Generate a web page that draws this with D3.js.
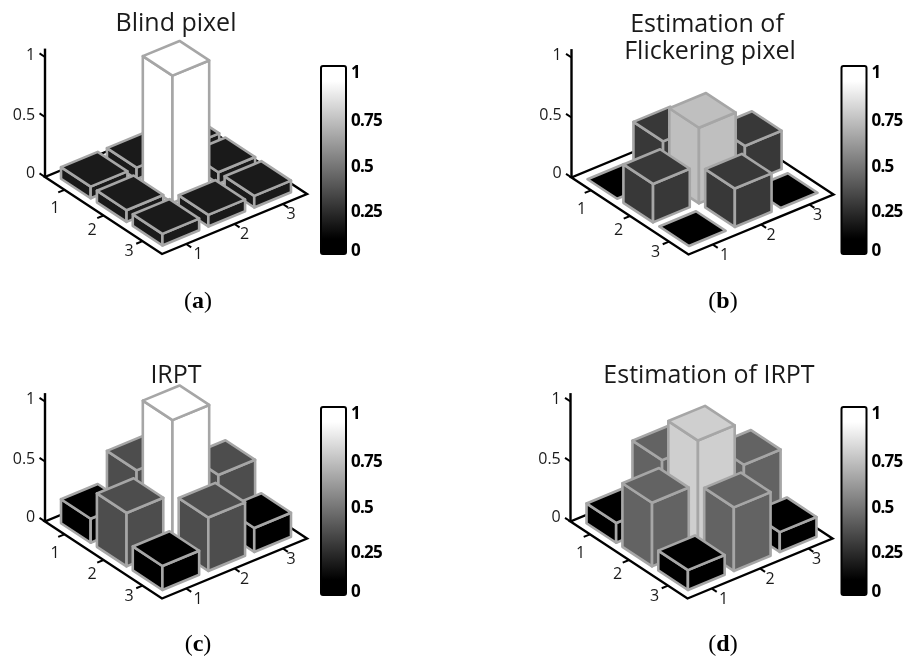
<!DOCTYPE html>
<html>
<head>
<meta charset="utf-8">
<script src="https://cdnjs.cloudflare.com/ajax/libs/d3/7.8.5/d3.min.js"></script>
<style>
  html, body { margin: 0; padding: 0; background: #fff; }
  svg { display: block; filter: blur(0.45px); }
  text { font-family: "Open Sans", "Noto Sans", sans-serif; fill: #1a1a1a; }
</style>
</head>
<body>
<script>
var w = 910;
var h = 662;

// bar heights, rows 1-3, columns 1-3
var heightsA = [[0.097, 0.097, 0.097], [0.097, 1.06, 0.097], [0.097, 0.097, 0.097]];
var heightsB = [[0, 0.32, 0], [0.32, 0.63, 0.32], [0, 0.32, 0]];
var heightsC = [[0.2, 0.445, 0.2], [0.445, 1.06, 0.445], [0.2, 0.445, 0.2]];
var heightsD = [[0.165, 0.53, 0.165], [0.53, 0.89, 0.53], [0.165, 0.53, 0.165]];

// grey level of each bar, same order
var shadesA = [[0.1, 0.1, 0.1], [0.1, 1, 0.1], [0.1, 0.1, 0.1]];
var shadesB = [[0, 0.22, 0], [0.22, 0.75, 0.22], [0, 0.22, 0]];
var shadesC = [[0, 0.3, 0], [0.3, 1, 0.3], [0, 0.3, 0]];
var shadesD = [[0, 0.39, 0], [0.39, 0.81, 0.39], [0, 0.39, 0]];

var titles = [["Blind pixel"], ["Estimation of", "Flickering pixel"], ["IRPT"], ["Estimation of IRPT"]];
var letters = ["a", "b", "c", "d"];
var gridLabels = [1, 2, 3];
var zTicks = [0, 0.5, 1];
var barTicks = [0, 0.25, 0.5, 0.75, 1];

var panels = [
  { ox: 45, oy: 177, bx: 321, by: 66, ty: 31, ly: 308, lx: 198, tx: [176], heights: heightsA, shades: shadesA },
  { ox: 571.5, oy: 177.5, bx: 841.5, by: 66, ty: 32, ly: 308, lx: 723, tx: [707, 710], heights: heightsB, shades: shadesB },
  { ox: 45, oy: 521.5, bx: 321, by: 407, ty: 383, ly: 651, lx: 198, tx: [176], heights: heightsC, shades: shadesC },
  { ox: 570.5, oy: 521.5, bx: 841.5, by: 407, ty: 383, ly: 651, lx: 723, tx: [709], heights: heightsD, shades: shadesD }
];

var grey = d3.scaleLinear().domain([0, 1]).range(["#000000", "#ffffff"]);

// floor axes of the oblique view
var uX = d3.scaleLinear().domain([0, 3]).range([0, 117]);
var uY = d3.scaleLinear().domain([0, 3]).range([0, 77]);
var vX = d3.scaleLinear().domain([0, 3]).range([0, 145]);
var vY = d3.scaleLinear().domain([0, 3]).range([0, -60]);
var zScale = d3.scaleLinear().domain([0, 1]).range([0, -120]);

// bar centres sit a little tighter than the floor grid
var uCentre = d3.scaleLinear().domain([0, 2]).range([0.58, 2.42]);
var vCentre = d3.scaleLinear().domain([0, 2]).range([0.55, 2.45]);

// tick labels along the floor edges
var uLabelX = d3.scaleLinear().domain([1, 3]).range([10, 84]);
var uLabelY = d3.scaleLinear().domain([1, 3]).range([36, 79]);
var vLabelX = d3.scaleLinear().domain([1, 3]).range([153, 246]);
var vLabelY = d3.scaleLinear().domain([1, 3]).range([82, 42]);

// colorbar label spacing in the figure is not quite even
var barScale = d3.scaleLinear().domain(barTicks).range([184, 145, 100, 54, 6]);

var gradPos = d3.scaleLinear().domain([0.08, 0.92]).range([0, 1]).clamp(true);

var svg = d3.select("body").append("svg")
  .attr("width", w)
  .attr("height", h);

var grad = svg.append("defs").append("linearGradient")
  .attr("id", "cbar")
  .attr("x1", 0).attr("y1", 1).attr("x2", 0).attr("y2", 0);
grad.selectAll("stop")
  .data([0, 0.08, 0.92, 1])
  .enter().append("stop")
  .attr("offset", function(d) { return d; })
  .attr("stop-color", function(d) { return grey(gradPos(d)); });

function drawPanel(p, idx) {
  var g = svg.append("g");

  function pt(u, v, z) {
    return [p.ox + uX(u) + vX(v), p.oy + uY(u) + vY(v) + zScale(z)];
  }
  var line = d3.line();

  // floor outline
  g.append("path")
    .attr("d", line([pt(0, 0, 0), pt(3, 0, 0), pt(3, 3, 0), pt(0, 3, 0)]) + "Z")
    .attr("fill", "#fff")
    .attr("stroke", "#000")
    .attr("stroke-width", 2.4);

  // z axis
  g.append("path")
    .attr("d", line([pt(0, 0, 0), pt(0, 0, 1.07)]))
    .attr("stroke", "#000")
    .attr("stroke-width", 2.4);

  g.selectAll(".ztick")
    .data(zTicks)
    .enter().append("path")
    .attr("d", function(d) { return line([pt(0, 0, d), pt(-0.14, 0, d)]); })
    .attr("stroke", "#000")
    .attr("stroke-width", 2);

  g.selectAll(".zlabel")
    .data(zTicks)
    .enter().append("text")
    .attr("x", function(d) { return pt(-0.25, 0, d)[0]; })
    .attr("y", function(d) { return pt(-0.25, 0, d)[1] + (d == 0 ? 7 : 9); })
    .attr("text-anchor", "end")
    .style("font-size", "16px")
    .text(function(d) { return d; });

  // ticks on the two floor edges
  gridLabels.forEach(function(lab, i) {
    var c = i + 0.5;
    g.append("path")
      .attr("d", line([pt(c, 0, 0), pt(c, -0.13, 0)]))
      .attr("stroke", "#000").attr("stroke-width", 2);
    g.append("path")
      .attr("d", line([pt(3, c, 0), pt(3.13, c, 0)]))
      .attr("stroke", "#000").attr("stroke-width", 2);
    g.append("text")
      .attr("x", p.ox + uLabelX(lab)).attr("y", p.oy + uLabelY(lab))
      .attr("text-anchor", "middle")
      .style("font-size", "16px")
      .text(lab);
    g.append("text")
      .attr("x", p.ox + vLabelX(lab)).attr("y", p.oy + vLabelY(lab))
      .attr("text-anchor", "middle")
      .style("font-size", "16px")
      .text(lab);
  });

  // bars, back to front
  var bars = [];
  p.heights.forEach(function(row, r) {
    row.forEach(function(val, c) {
      bars.push({ r: r, c: c, h: val, s: p.shades[r][c] });
    });
  });
  bars.sort(function(a, b) { return (a.r - a.c) - (b.r - b.c); });

  var half = 0.38;
  bars.forEach(function(d) {
    var u0 = uCentre(d.r) - half, u1 = uCentre(d.r) + half;
    var v0 = vCentre(d.c) - half, v1 = vCentre(d.c) + half;
    var faces;
    if (d.h > 0) {
      faces = [
        [pt(u0, v0, 0), pt(u1, v0, 0), pt(u1, v0, d.h), pt(u0, v0, d.h)],
        [pt(u1, v0, 0), pt(u1, v1, 0), pt(u1, v1, d.h), pt(u1, v0, d.h)],
        [pt(u0, v0, d.h), pt(u1, v0, d.h), pt(u1, v1, d.h), pt(u0, v1, d.h)]
      ];
    } else {
      faces = [[pt(u0, v0, 0), pt(u1, v0, 0), pt(u1, v1, 0), pt(u0, v1, 0)]];
    }
    g.append("g").selectAll("path")
      .data(faces)
      .enter().append("path")
      .attr("d", function(f) { return line(f) + "Z"; })
      .attr("fill", grey(d.s))
      .attr("stroke", "#a6a6a6")
      .attr("stroke-width", 2.6)
      .attr("stroke-linejoin", "round");
  });

  // colorbar
  g.append("rect")
    .attr("x", p.bx).attr("y", p.by)
    .attr("width", 25).attr("height", 188)
    .attr("rx", 2)
    .attr("fill", "url(#cbar)")
    .attr("stroke", "#000")
    .attr("stroke-width", 2);

  g.selectAll(".cblabel")
    .data(barTicks)
    .enter().append("text")
    .attr("x", p.bx + 30)
    .attr("y", function(d) { return p.by + barScale(d) + 6; })
    .style("font-size", "17px")
    .style("font-weight", "700")
    .style("letter-spacing", "-0.8px")
    .style("fill", "#000")
    .text(function(d) { return d; });

  // title, one text element with a tspan per line
  var title = g.append("text")
    .attr("y", p.ty)
    .attr("text-anchor", "middle")
    .style("font-size", "25px");
  titles[idx].forEach(function(t, i) {
    title.append("tspan")
      .attr("x", p.tx[i])
      .attr("dy", i == 0 ? 0 : 27)
      .text(t);
  });

  // sub-figure letter
  var sub = g.append("text")
    .attr("x", p.lx).attr("y", p.ly)
    .attr("text-anchor", "middle")
    .style("font-family", "'Liberation Serif', serif")
    .style("font-size", "24px")
    .style("fill", "#000");
  sub.append("tspan").text("(");
  sub.append("tspan").style("font-weight", "700").text(letters[idx]);
  sub.append("tspan").text(")");
}

panels.forEach(drawPanel);
</script>
</body>
</html>
